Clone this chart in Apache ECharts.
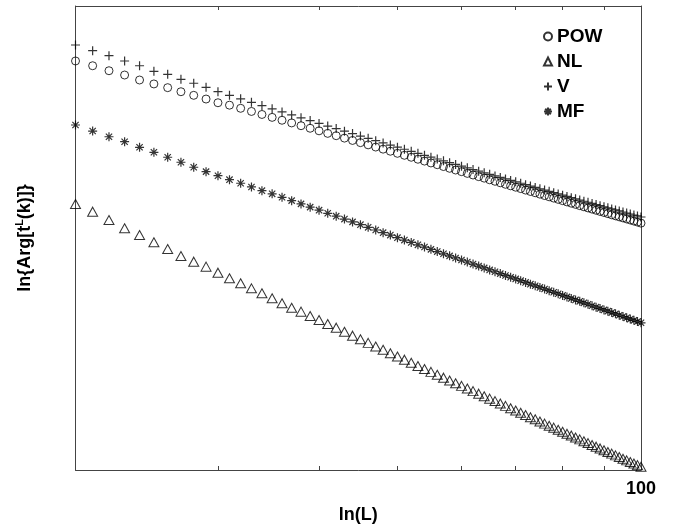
<!DOCTYPE html>
<html>
<head>
<meta charset="utf-8">
<script src="https://cdn.jsdelivr.net/npm/echarts@6/dist/echarts.min.js"></script>
<style>html,body{margin:0;padding:0;background:#fff;}#c{width:674px;height:529px;}</style>
</head>
<body>
<div id="c"></div>
<script>
var L = [20,21,22,23,24,25,26,27,28,29,30,31,32,33,34,35,36,37,38,39,40,41,42,43,44,45,46,47,48,49,50,51,52,53,54,55,56,57,58,59,60,61,62,63,64,65,66,67,68,69,70,71,72,73,74,75,76,77,78,79,80,81,82,83,84,85,86,87,88,89,90,91,92,93,94,95,96,97,98,99,100];

var POW = [-0.474,-0.515,-0.558,-0.595,-0.638,-0.672,-0.704,-0.739,-0.770,-0.802,-0.834,
-0.855,-0.882,-0.909,-0.935,-0.960,-0.985,-1.008,-1.032,-1.054,-1.076,
-1.098,-1.118,-1.139,-1.159,-1.178,-1.197,-1.216,-1.234,-1.252,-1.270,
-1.287,-1.304,-1.321,-1.337,-1.353,-1.368,-1.384,-1.399,-1.414,-1.428,
-1.443,-1.457,-1.471,-1.484,-1.498,-1.511,-1.524,-1.537,-1.550,-1.562,
-1.574,-1.587,-1.599,-1.610,-1.622,-1.634,-1.645,-1.656,-1.667,-1.678,
-1.689,-1.700,-1.710,-1.721,-1.731,-1.741,-1.751,-1.761,-1.771,-1.780,
-1.790,-1.800,-1.809,-1.818,-1.827,-1.836,-1.845,-1.854,-1.863,-1.872];

var NL = [-1.707,-1.773,-1.845,-1.916,-1.974,-2.037,-2.095,-2.155,-2.204,-2.247,-2.299,
-2.347,-2.390,-2.434,-2.477,-2.520,-2.563,-2.601,-2.635,-2.672,-2.707,
-2.741,-2.773,-2.808,-2.842,-2.873,-2.904,-2.935,-2.964,-2.993,-3.021,
-3.049,-3.076,-3.103,-3.129,-3.154,-3.179,-3.204,-3.228,-3.252,-3.275,
-3.298,-3.320,-3.342,-3.364,-3.385,-3.406,-3.427,-3.447,-3.468,-3.487,
-3.507,-3.526,-3.545,-3.563,-3.582,-3.600,-3.618,-3.635,-3.653,-3.670,
-3.687,-3.703,-3.720,-3.736,-3.752,-3.768,-3.784,-3.799,-3.814,-3.830,
-3.845,-3.859,-3.874,-3.888,-3.903,-3.917,-3.931,-3.944,-3.958,-3.972];

var V = [-0.336,-0.385,-0.428,-0.474,-0.515,-0.563,-0.589,-0.632,-0.666,-0.701,-0.739,
-0.770,-0.800,-0.830,-0.858,-0.886,-0.913,-0.939,-0.964,-0.988,-1.012,
-1.035,-1.057,-1.079,-1.100,-1.121,-1.141,-1.161,-1.180,-1.199,-1.217,
-1.235,-1.253,-1.270,-1.287,-1.303,-1.319,-1.335,-1.351,-1.366,-1.381,
-1.395,-1.410,-1.424,-1.438,-1.451,-1.465,-1.478,-1.491,-1.504,-1.516,
-1.528,-1.540,-1.552,-1.564,-1.576,-1.587,-1.598,-1.609,-1.620,-1.631,
-1.642,-1.652,-1.662,-1.673,-1.683,-1.692,-1.702,-1.712,-1.721,-1.731,
-1.740,-1.749,-1.758,-1.767,-1.776,-1.785,-1.793,-1.802,-1.810,-1.819];

var MF = [-1.026,-1.078,-1.127,-1.170,-1.218,-1.261,-1.304,-1.347,-1.390,-1.428,-1.463,
-1.497,-1.528,-1.560,-1.592,-1.619,-1.649,-1.678,-1.706,-1.734,-1.760,
-1.787,-1.812,-1.837,-1.861,-1.885,-1.908,-1.931,-1.954,-1.975,-1.997,
-2.018,-2.038,-2.059,-2.078,-2.098,-2.117,-2.136,-2.154,-2.172,-2.190,
-2.207,-2.225,-2.242,-2.258,-2.275,-2.291,-2.307,-2.323,-2.338,-2.353,
-2.368,-2.383,-2.398,-2.412,-2.426,-2.440,-2.454,-2.468,-2.481,-2.495,
-2.508,-2.521,-2.534,-2.546,-2.559,-2.571,-2.584,-2.596,-2.608,-2.620,
-2.631,-2.643,-2.654,-2.666,-2.677,-2.688,-2.699,-2.710,-2.720,-2.731];

var xTicks = [30,40,50,60,70,80,90];
var xLabels = [100];
var names = ['POW','NL','V','MF'];

function pairs(ys){ return L.map(function(x,i){ return [x, ys[i]]; }); }

var FONT = '"Liberation Sans", Arial, Helvetica, sans-serif';
var PLUS = 'path://M5,0L5,10M0,5L10,5';
var STAR = 'path://M5,0L5,10M0,5L10,5M1.5,1.5L8.5,8.5M8.5,1.5L1.5,8.5';
var open = {color:'rgba(0,0,0,0)', borderColor:'#000', borderWidth:1};
var line = {color:'rgba(0,0,0,0)', borderColor:'#000', borderWidth:1.2};

var chart = echarts.init(document.getElementById('c'), null, {renderer:'canvas'});
var tickAxis = function(pos){
  return {
    type:'log', logBase:10, min:20, max:100, position:pos,
    axisLine:{show:true, onZero:false, lineStyle:{color:'#444', width:1}},
    axisTick:{show:true, inside:true, length:4, customValues:xTicks, lineStyle:{color:'#444'}},
    axisLabel:{show:pos==='bottom', customValues:xLabels, color:'#000', fontFamily:FONT, fontWeight:'bold', fontSize:18, margin:10},
    splitLine:{show:false}
  };
};
var xb = tickAxis('bottom');
xb.name = 'ln(L)';
xb.nameLocation = 'middle';
xb.nameGap = 36;
xb.nameTextStyle = {color:'#000', fontFamily:FONT, fontWeight:'bold', fontSize:18};
var xt = tickAxis('top');

chart.setOption({
  animation:false,
  backgroundColor:'#fff',
  grid:{left:75.5, right:33, top:6, bottom:59, show:false},
  legend:{
    orient:'vertical', left:538, top:22, itemGap:6, itemWidth:8, itemHeight:8,
    data:names,
    textStyle:{color:'#000', fontFamily:FONT, fontWeight:'bold', fontSize:19},
    selectedMode:false
  },
  xAxis:[xb, xt],
  yAxis:[{
    type:'value', min:-4, max:0, position:'left',
    name:'{a|ln{Arg[t}{s|L}{a|(k)]}}',
    nameLocation:'middle', nameGap:40, nameRotate:90,
    nameTextStyle:{color:'#000', fontFamily:FONT, fontWeight:'bold', fontSize:18,
      rich:{a:{fontFamily:FONT, fontWeight:'bold', fontSize:18, color:'#000'},
            s:{fontFamily:FONT, fontWeight:'bold', fontSize:11, color:'#000', padding:[0,0,10,0]}}},
    axisLine:{show:true, onZero:false, lineStyle:{color:'#444', width:1}},
    axisTick:{show:false}, axisLabel:{show:false}, splitLine:{show:false}
  },{
    type:'value', min:-4, max:0, position:'right',
    axisLine:{show:true, onZero:false, lineStyle:{color:'#444', width:1}},
    axisTick:{show:false}, axisLabel:{show:false}, splitLine:{show:false}
  }],
  series:[
    {name:'POW', type:'scatter', data:pairs(POW), symbol:'circle', symbolSize:8, itemStyle:open},
    {name:'NL', type:'scatter', data:pairs(NL), symbol:'triangle', symbolSize:[10,9], itemStyle:open},
    {name:'V', type:'scatter', data:pairs(V), symbol:PLUS, symbolSize:9, itemStyle:line},
    {name:'MF', type:'scatter', data:pairs(MF), symbol:STAR, symbolSize:9, itemStyle:line}
  ]
});
</script>
</body>
</html>
